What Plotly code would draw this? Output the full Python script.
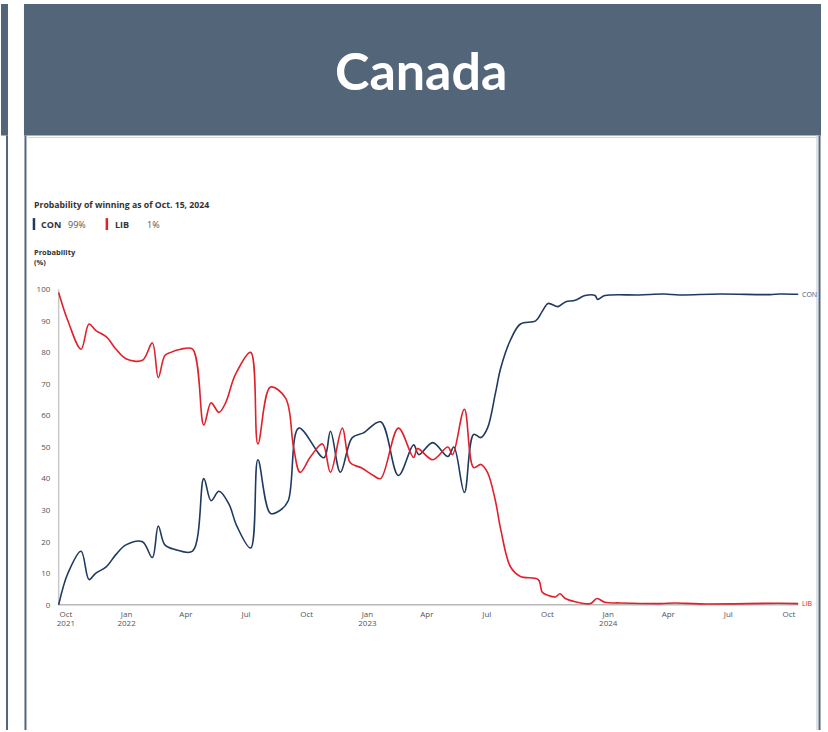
import plotly.graph_objects as go

W, H = 828, 732

# ---------------- data ----------------
con_dates = ["2021-09-20", "2021-10-04", "2021-10-24", "2021-11-05", "2021-11-15", "2021-12-01",
             "2021-12-16", "2021-12-31", "2022-01-25", "2022-02-09", "2022-02-18", "2022-02-28",
             "2022-03-16", "2022-04-11", "2022-04-28", "2022-05-09", "2022-05-21", "2022-06-05",
             "2022-06-17", "2022-07-08", "2022-07-19", "2022-08-07", "2022-08-22", "2022-09-03",
             "2022-09-19", "2022-10-27", "2022-11-06", "2022-11-21", "2022-12-09", "2022-12-26",
             "2023-01-21", "2023-02-17", "2023-03-12", "2023-03-20", "2023-04-10", "2023-05-03",
             "2023-05-12", "2023-05-28", "2023-06-11", "2023-06-22", "2023-07-02", "2023-07-14",
             "2023-07-22", "2023-08-06", "2023-08-21", "2023-09-13", "2023-09-23", "2023-10-02",
             "2023-10-17", "2023-10-28", "2023-11-12", "2023-11-27", "2023-12-12", "2023-12-16",
             "2023-12-27", "2024-02-17", "2024-03-26", "2024-04-18", "2024-06-18", "2024-09-02",
             "2024-09-17", "2024-10-15"]
con_vals = [0, 10, 17, 8, 10, 12,
            16, 19, 20, 15, 25, 19,
            17.5, 17, 40, 33, 36, 32,
            25, 18, 46, 29, 30, 33,
            56, 46.6, 55, 42, 53, 54.5,
            58, 41, 50.7, 47.6, 51.4, 47,
            50, 35.6, 54, 53, 56, 67,
            75, 84, 89, 90, 93, 95.5,
            94.5, 96, 96.5, 98, 98, 96.8,
            98, 98.2, 98.5, 98.2, 98.5, 98.3,
            98.5, 98.4]

lib_dates = ["2021-09-20", "2021-10-04", "2021-10-24", "2021-11-05", "2021-11-15", "2021-12-01",
             "2021-12-16", "2021-12-31", "2022-01-25", "2022-02-09", "2022-02-18", "2022-02-28",
             "2022-03-09", "2022-03-24", "2022-04-11", "2022-04-28", "2022-05-09", "2022-05-21",
             "2022-05-31", "2022-06-15", "2022-07-08", "2022-07-19", "2022-08-07", "2022-08-30",
             "2022-09-11", "2022-09-21", "2022-10-07", "2022-10-25", "2022-11-06", "2022-11-24",
             "2022-12-06", "2022-12-22", "2023-01-10", "2023-01-21", "2023-02-17", "2023-03-12",
             "2023-03-18", "2023-04-10", "2023-05-03", "2023-05-10", "2023-05-28", "2023-06-11",
             "2023-06-22", "2023-07-02", "2023-07-14", "2023-07-22", "2023-08-06", "2023-08-21",
             "2023-09-17", "2023-09-23", "2023-10-02", "2023-10-13", "2023-10-20", "2023-10-28",
             "2023-11-12", "2023-12-05", "2023-12-15", "2023-12-27", "2024-01-19", "2024-03-20",
             "2024-04-11", "2024-05-19", "2024-09-17", "2024-10-15"]
lib_vals = [99, 90, 81, 89, 87, 85,
            81, 78, 77.5, 83, 72, 79,
            80, 81, 81, 57, 64, 61,
            64, 73, 80, 51, 69, 65.5,
            50, 42, 47, 51, 42, 56,
            45, 43.5, 41, 40, 56, 46.7,
            49.5, 46, 50, 47.6, 62, 43.5,
            44.5, 42, 33, 24, 12, 9,
            8, 4, 3, 2.5, 3.5, 2,
            1, 0.4, 2, 0.8, 0.6, 0.4,
            0.6, 0.3, 0.5, 0.4]

x_tick_vals = ["2021-10-01", "2022-01-01", "2022-04-01", "2022-07-01", "2022-10-01",
               "2023-01-01", "2023-04-01", "2023-07-01", "2023-10-01", "2024-01-01",
               "2024-04-01", "2024-07-01", "2024-10-01"]
x_tick_text = ["Oct", "Jan", "Apr", "Jul", "Oct", "Jan", "Apr",
               "Jul", "Oct", "Jan", "Apr", "Jul", "Oct"]
year_tick_vals = ["2021-10-01", "2022-01-01", "2023-01-01", "2024-01-01"]
year_tick_text = ["2021", "2022", "2023", "2024"]
y_tick_vals = [0, 10, 20, 30, 40, 50, 60, 70, 80, 90, 100]

title_text = "Canada"
subtitle_text = "Probability of winning as of Oct. 15, 2024"
con_name, con_pct = "CON", "99%"
lib_name, lib_pct = "LIB", "1%"

# ---------------- styles ----------------
CON_COLOR = "#1f3a5f"
LIB_COLOR = "#e0202b"
HEADER = "#536579"
FONT = "Open Sans"
X_RANGE = ["2021-09-18", "2024-10-17"]


def px(x):
    return x / W


def py(y):
    return 1 - y / H


fig = go.Figure()
fig.add_trace(go.Scatter(x=con_dates, y=con_vals, mode="lines", name="CON",
                         line=dict(color=CON_COLOR, width=1.6, shape="spline", smoothing=1.0),
                         hoverinfo="skip"))
fig.add_trace(go.Scatter(x=lib_dates, y=lib_vals, mode="lines", name="LIB",
                         line=dict(color=LIB_COLOR, width=1.6, shape="spline", smoothing=1.0),
                         hoverinfo="skip"))
# invisible trace anchoring the year axis
fig.add_trace(go.Scatter(x=con_dates[:1], y=con_vals[:1], xaxis="x2", mode="markers",
                         marker=dict(opacity=0), hoverinfo="skip", showlegend=False))

shapes = [
    dict(type="rect", xref="paper", yref="paper", x0=px(0), x1=px(7), y0=py(135), y1=py(3),
         fillcolor=HEADER, line=dict(width=0), layer="below"),
    dict(type="line", xref="paper", yref="paper", x0=px(6), x1=px(6), y0=py(135), y1=py(732),
         line=dict(color=HEADER, width=2)),
    dict(type="rect", xref="paper", yref="paper", x0=px(23), x1=px(821), y0=py(135), y1=py(3),
         fillcolor=HEADER, line=dict(width=0), layer="below"),
    dict(type="line", xref="paper", yref="paper", x0=px(24.5), x1=px(24.5), y0=py(135), y1=py(732),
         line=dict(color=HEADER, width=2)),
    dict(type="line", xref="paper", yref="paper", x0=px(817), x1=px(817), y0=py(135), y1=py(732),
         line=dict(color="#d4d8de", width=1.5)),
    dict(type="line", xref="paper", yref="paper", x0=px(819.5), x1=px(819.5), y0=py(135), y1=py(732),
         line=dict(color=HEADER, width=2)),
    dict(type="line", xref="paper", yref="paper", x0=px(25), x1=px(818), y0=py(137), y1=py(137),
         line=dict(color="#d4d8de", width=1)),
    dict(type="line", xref="x", yref="y", x0=con_dates[0], x1=con_dates[-1], y0=0, y1=0,
         line=dict(color="#b8b8b8", width=1.5), layer="below"),
    dict(type="line", xref="x", yref="y", x0=con_dates[0], x1=con_dates[0], y0=0, y1=100,
         line=dict(color="#c8c8c8", width=1.5), layer="below"),
    dict(type="line", xref="paper", yref="paper", x0=px(33), x1=px(33), y0=py(230), y1=py(218),
         line=dict(color=CON_COLOR, width=2.5)),
    dict(type="line", xref="paper", yref="paper", x0=px(106), x1=px(106), y0=py(230), y1=py(218),
         line=dict(color=LIB_COLOR, width=2.5)),
]

txt = "#333333"
annotations = [
    dict(text="<b>" + title_text + "</b>", x=px(421), y=py(69), xref="paper", yref="paper",
         showarrow=False, font=dict(family="Lato", size=52, color="white"),
         xanchor="center", yanchor="middle"),
    dict(text="<b>" + subtitle_text + "</b>", x=px(31), y=py(205), xref="paper", yref="paper",
         showarrow=False, font=dict(family=FONT, size=8.7, color=txt), xanchor="left", yanchor="middle"),
    dict(text="<b>" + con_name + "</b>", x=px(38), y=py(224), xref="paper", yref="paper",
         showarrow=False, font=dict(family=FONT, size=9, color=txt), xanchor="left", yanchor="middle"),
    dict(text=con_pct, x=px(65), y=py(224), xref="paper", yref="paper",
         showarrow=False, font=dict(family=FONT, size=9, color="#555"), xanchor="left", yanchor="middle"),
    dict(text="<b>" + lib_name + "</b>", x=px(112), y=py(224), xref="paper", yref="paper",
         showarrow=False, font=dict(family=FONT, size=9, color=txt), xanchor="left", yanchor="middle"),
    dict(text=lib_pct, x=px(144), y=py(224), xref="paper", yref="paper",
         showarrow=False, font=dict(family=FONT, size=9, color="#555"), xanchor="left", yanchor="middle"),
    dict(text="<b>Probability</b><br><b>(%)</b>", x=px(31), y=py(257), xref="paper", yref="paper",
         showarrow=False, align="left", font=dict(family=FONT, size=7.5, color=txt),
         xanchor="left", yanchor="middle"),
    dict(text=con_name, x=con_dates[-1], y=con_vals[-1], xref="x", yref="y", showarrow=False,
         xanchor="left", yanchor="middle", xshift=2,
         font=dict(family=FONT, size=7, color="#4a5570")),
    dict(text=lib_name, x=lib_dates[-1], y=lib_vals[-1], xref="x", yref="y", showarrow=False,
         xanchor="left", yanchor="middle", xshift=2,
         font=dict(family=FONT, size=7, color=LIB_COLOR)),
]

tickfont = dict(family=FONT, size=8, color="#555")
fig.update_layout(
    width=W, height=H,
    margin=dict(l=0, r=0, t=0, b=0),
    paper_bgcolor="white", plot_bgcolor="rgba(0,0,0,0)",
    showlegend=False,
    shapes=shapes, annotations=annotations,
    xaxis=dict(domain=[px(56.4), px(799.5)], range=X_RANGE,
               type="date", showgrid=False, zeroline=False, showline=False,
               tickmode="array", tickvals=x_tick_vals, ticktext=x_tick_text,
               ticks="", ticklabelstandoff=0, tickfont=tickfont),
    xaxis2=dict(domain=[px(56.4), px(799.5)], range=X_RANGE, overlaying="x", side="bottom",
                anchor="y", type="date", showgrid=False, zeroline=False, showline=False,
                tickmode="array", tickvals=year_tick_vals, ticktext=year_tick_text,
                ticks="", ticklabelstandoff=9, tickfont=tickfont),
    yaxis=dict(domain=[py(609.5), py(284.7)], range=[-1, 101.5],
               showgrid=False, zeroline=False, showline=False,
               tickmode="array", tickvals=y_tick_vals, ticks="", ticklabelstandoff=6,
               tickfont=tickfont),
    font=dict(family=FONT),
)

fig.write_html("out.html")
